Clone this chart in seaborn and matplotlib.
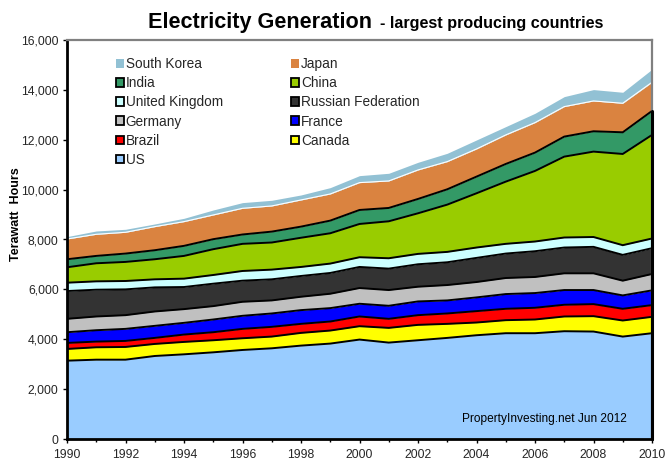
import numpy as np
import pandas as pd
import matplotlib.pyplot as plt
from matplotlib.patches import Patch
import seaborn as sns

years = list(range(1990, 2011))

us = [3141, 3181, 3181, 3329, 3396, 3476, 3570, 3637, 3745, 3826, 3987, 3866, 3960, 4054, 4161, 4242, 4242, 4322, 4309, 4107, 4242]
canada = [470, 497, 510, 483, 497, 484, 470, 470, 510, 523, 536, 590, 617, 563, 510, 523, 550, 591, 617, 645, 657]
brazil = [241, 228, 242, 242, 295, 322, 376, 390, 362, 362, 390, 363, 389, 417, 457, 456, 470, 470, 483, 469, 470]
france = [430, 456, 483, 483, 470, 510, 524, 537, 551, 537, 510, 523, 551, 523, 550, 591, 590, 590, 564, 537, 591]
germany = [537, 551, 550, 577, 550, 537, 563, 523, 537, 577, 631, 631, 590, 617, 617, 644, 645, 671, 671, 591, 657]
russia = [1114, 1074, 1034, 966, 886, 899, 846, 846, 832, 833, 845, 859, 900, 913, 967, 980, 1033, 1034, 1061, 1034, 1034]
uk = [335, 335, 336, 323, 336, 349, 389, 389, 362, 376, 390, 416, 416, 416, 416, 390, 389, 402, 395, 389, 389]
china = [618, 725, 765, 805, 912, 1034, 1088, 1087, 1171, 1216, 1334, 1482, 1628, 1895, 2175, 2494, 2830, 3243, 3424, 3658, 4153]
india = [322, 295, 335, 362, 403, 402, 375, 437, 446, 507, 561, 535, 575, 615, 668, 709, 735, 803, 816, 869, 962]
japan = [813, 867, 853, 946, 972, 971, 1050, 1029, 1070, 1069, 1097, 1083, 1163, 1110, 1110, 1164, 1203, 1203, 1216, 1164, 1150]
south_korea = [94, 133, 120, 107, 133, 200, 228, 227, 200, 254, 280, 307, 307, 334, 361, 334, 374, 401, 455, 441, 521]

df = pd.DataFrame({
    'US': us, 'Canada': canada, 'Brazil': brazil, 'France': france,
    'Germany': germany, 'Russian Federation': russia, 'United Kingdom': uk,
    'China': china, 'India': india, 'Japan': japan, 'South Korea': south_korea,
}, index=years)

colors = sns.color_palette(['#99CCFF', '#FFFF00', '#FF0000', '#0000FF', '#C0C0C0', '#333333',
                            '#CCFFFF', '#99CC00', '#339966', '#DA8340', '#92C1D4'])
color_of = dict(zip(df.columns, colors))

sns.set_style('white')
plt.rcParams['font.family'] = ['Liberation Sans', 'DejaVu Sans']

W, H = 665, 473
fig = plt.figure(figsize=(W / 100, H / 100), dpi=100)
ax = fig.add_axes([67 / W, (H - 439) / H, 585 / W, 399 / H])

ax.stackplot(df.index, df.T.values, colors=colors, linewidth=0)

# black outlines on the tops of the bands, white one under South Korea
tops = df.cumsum(axis=1)
for name in df.columns[:9]:
    ax.plot(df.index, tops[name], color='black', lw=1.4, solid_joinstyle='miter')
ax.plot(df.index, tops['Japan'], color='white', lw=0.8)
ax.plot([2010, 2010], [0, tops['India'].iloc[-1]], color='black', lw=2.2, clip_on=False, zorder=5)

ax.set_xlim(1990, 2010)
ax.set_ylim(0, 16000)
ax.set_xticks(range(1990, 2011, 2))
ax.set_xticks(range(1991, 2011, 2), minor=True)
ax.set_yticks(range(0, 16001, 2000))
ax.yaxis.set_major_formatter(lambda v, pos: f'{int(v):,}')
ax.tick_params(axis='both', which='major', direction='out', length=3, width=1, color='black',
               labelsize=8.8, left=True, bottom=True, pad=3)
ax.tick_params(axis='x', which='minor', direction='out', length=2, width=1, color='black', bottom=True)
ax.tick_params(axis='x', which='major', pad=4)

for side in ['top', 'right']:
    ax.spines[side].set_color('#808080')
    ax.spines[side].set_linewidth(1.6)
for side in ['left', 'bottom']:
    ax.spines[side].set_color('black')
    ax.spines[side].set_linewidth(2.0)

# legend is filled column by column
order = ['South Korea', 'India', 'United Kingdom', 'Germany', 'Brazil', 'US',
         'Japan', 'China', 'Russian Federation', 'France', 'Canada']
no_edge = ['South Korea', 'Japan']
handles = [Patch(facecolor=color_of[n], edgecolor='none' if n in no_edge else 'black',
                 linewidth=0 if n in no_edge else 1.3) for n in order]
fig.legend(handles, order, ncol=2, frameon=False, fontsize=9.8,
           loc='upper left', bbox_to_anchor=(116 / W, 1 - 57 / H), borderaxespad=0, borderpad=0,
           handlelength=0.6, handleheight=0.6, handletextpad=0.12,
           labelspacing=0.38, columnspacing=5.0)

fig.text(148 / W, 1 - 28 / H, 'Electricity Generation', fontsize=15.6, fontweight='bold', color='black')
fig.text(380 / W, 1 - 28 / H, '- largest producing countries', fontsize=11.6, fontweight='bold', color='black')
fig.text(16 / W, 1 - 214 / H, 'Terawatt  Hours', rotation=90, fontsize=9, fontweight='bold',
         ha='center', va='center', color='black')
fig.text(462 / W, 1 - 422 / H, 'PropertyInvesting.net Jun 2012', fontsize=8.6, color='black')

fig.savefig('out.png', dpi=100)
